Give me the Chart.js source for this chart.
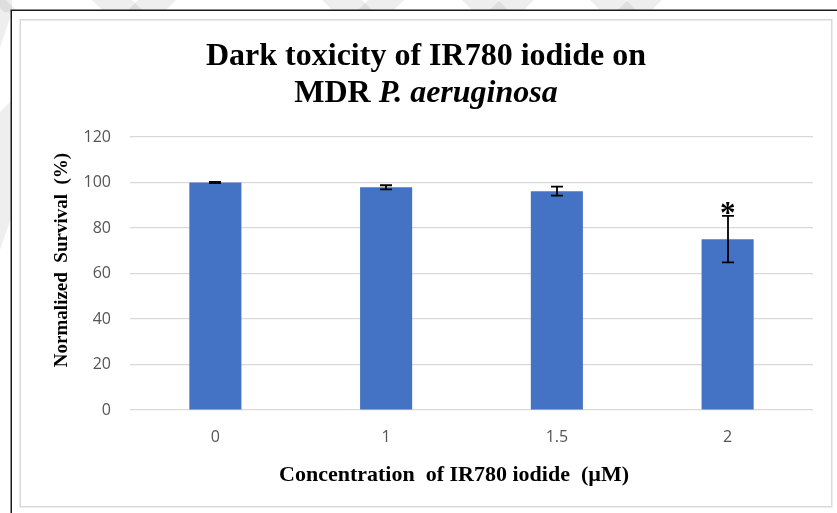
<!DOCTYPE html>
<html>
<head>
<meta charset="utf-8">
<script src="https://cdn.jsdelivr.net/npm/chart.js@4.4.1/dist/chart.umd.min.js"></script>
<style>
  html, body { margin: 0; padding: 0; background: #fff; overflow: hidden; }
  canvas { display: block; }
</style>
</head>
<body>
<canvas id="c" width="837" height="513"></canvas>
<script>
// Survival data per IR780 iodide concentration (mean ± error)
const categories = ['0', '1', '1.5', '2'];
const survival = [100, 97.9, 96.2, 75.1];
const survivalError = [0.3, 0.9, 2.0, 10.2];
const significance = ['', '', '', '*'];
const yTicks = [0, 20, 40, 60, 80, 100, 120];

const titleLine1 = 'Dark toxicity of IR780 iodide on';
const titleLine2Plain = 'MDR ';
const titleLine2Italic = 'P. aeruginosa';
const xTitle = 'Concentration  of IR780 iodide  (\u00b5M)';
const yTitle = 'Normalized  Survival  (%)';

const SERIF = '"Liberation Serif", "Times New Roman", serif';
const TICK_FONT = { family: '"Open Sans", "Liberation Sans", sans-serif', size: 16 };
const TICK_COLOR = '#555555';

// Page background, faint watermark patches, and the framed panel
const framePlugin = {
  id: 'frame',
  beforeDraw(chart) {
    const ctx = chart.ctx;
    const W = chart.width, H = chart.height;
    ctx.save();
    ctx.fillStyle = '#ffffff';
    ctx.fillRect(0, 0, W, H);

    ctx.fillStyle = 'rgba(0,0,0,0.065)';
    // slanted patches along the top margin: [x at top, width, slant]
    const topPatches = [
      [-8, 14, 1], [92, 40, 1], [138, 38, -1], [322, 40, 1], [368, 36, -1],
      [462, 36, 1], [500, 34, -1], [590, 36, 1], [628, 34, -1]
    ];
    topPatches.forEach(([x0, w, d]) => {
      const h = 12;
      ctx.beginPath();
      ctx.moveTo(x0, 0);
      ctx.lineTo(x0 + w, 0);
      ctx.lineTo(x0 + w + d * h, h);
      ctx.lineTo(x0 + d * h, h);
      ctx.closePath();
      ctx.fill();
    });
    // patches along the left margin
    ctx.beginPath();
    ctx.moveTo(0, 0); ctx.lineTo(12, 0); ctx.lineTo(12, 12); ctx.lineTo(0, 48);
    ctx.closePath(); ctx.fill();
    ctx.beginPath();
    ctx.moveTo(0, 112); ctx.lineTo(12, 100); ctx.lineTo(12, 215); ctx.lineTo(0, 250);
    ctx.closePath(); ctx.fill();

    // outer dark frame
    ctx.fillStyle = '#ffffff';
    ctx.fillRect(11, 10, W, H);
    ctx.strokeStyle = '#1a1a1a';
    ctx.lineWidth = 1.5;
    ctx.strokeRect(11.25, 10.25, W + 20, H + 20);

    // inner panel
    ctx.strokeStyle = '#d9d9d9';
    ctx.lineWidth = 1.5;
    ctx.strokeRect(20.25, 19.75, 811.5, 487);
    ctx.restore();
  }
};

// Error bars and significance marks, placed through the y scale
const errorBarPlugin = {
  id: 'errorBars',
  afterDatasetsDraw(chart) {
    const ctx = chart.ctx;
    const y = chart.scales.y;
    const meta = chart.getDatasetMeta(0);
    ctx.save();
    ctx.strokeStyle = '#000';
    ctx.lineWidth = 1.8;
    meta.data.forEach((bar, i) => {
      const x = Math.round(bar.x);
      const yHi = y.getPixelForValue(survival[i] + survivalError[i]);
      const yLo = y.getPixelForValue(survival[i] - survivalError[i]);
      const cap = 6;
      ctx.beginPath();
      ctx.moveTo(x, yHi); ctx.lineTo(x, yLo);
      ctx.moveTo(x - cap, yHi); ctx.lineTo(x + cap, yHi);
      ctx.moveTo(x - cap, yLo); ctx.lineTo(x + cap, yLo);
      ctx.stroke();
      if (significance[i]) {
        ctx.fillStyle = '#000';
        ctx.font = 'bold 31px ' + SERIF;
        ctx.textAlign = 'center';
        ctx.textBaseline = 'alphabetic';
        ctx.fillText(significance[i], bar.x, yHi + 7);
      }
    });
    ctx.restore();
  }
};

// Chart title (with italic species name) and axis titles
const titlePlugin = {
  id: 'titles',
  afterDraw(chart) {
    const ctx = chart.ctx;
    ctx.save();
    ctx.fillStyle = '#000';
    ctx.textBaseline = 'alphabetic';

    const cx = 426;
    const plainFont = 'bold 32px ' + SERIF;
    const italicFont = 'italic bold 32px ' + SERIF;
    ctx.font = plainFont;
    ctx.textAlign = 'center';
    ctx.fillText(titleLine1, cx, 65);

    const w1 = ctx.measureText(titleLine2Plain).width;
    ctx.font = italicFont;
    const w2 = ctx.measureText(titleLine2Italic).width;
    const sx = cx - (w1 + w2) / 2;
    ctx.textAlign = 'left';
    ctx.font = plainFont;
    ctx.fillText(titleLine2Plain, sx, 102);
    ctx.font = italicFont;
    ctx.fillText(titleLine2Italic, sx + w1, 102);

    ctx.font = 'bold 22px ' + SERIF;
    ctx.textAlign = 'center';
    ctx.fillText(xTitle, 454, 481);

    ctx.font = 'bold 19px ' + SERIF;
    ctx.translate(67, 260);
    ctx.rotate(-Math.PI / 2);
    ctx.fillText(yTitle, 0, 0);
    ctx.restore();
  }
};

new Chart(document.getElementById('c'), {
  type: 'bar',
  data: {
    labels: categories,
    datasets: [{
      data: survival,
      backgroundColor: '#4472c4',
      borderWidth: 0,
      categoryPercentage: 1,
      barPercentage: 0.305
    }]
  },
  options: {
    responsive: false,
    animation: false,
    devicePixelRatio: 1,
    layout: { padding: { left: 0, right: 24, top: 137, bottom: 0 } },
    plugins: {
      legend: { display: false },
      title: { display: false },
      tooltip: { enabled: false }
    },
    scales: {
      x: {
        grid: { display: false, drawTicks: false },
        border: { display: false },
        ticks: { font: TICK_FONT, color: TICK_COLOR, padding: 18 },
        afterFit(s) { s.height = 103; }
      },
      y: {
        min: 0,
        max: 120,
        afterBuildTicks(s) { s.ticks = yTicks.map(v => ({ value: v })); },
        grid: { color: '#d9d9d9', lineWidth: 1.2, drawTicks: false },
        border: { display: false },
        ticks: { font: TICK_FONT, color: TICK_COLOR, padding: 19 },
        afterFit(s) { s.width = 130; }
      }
    }
  },
  plugins: [framePlugin, errorBarPlugin, titlePlugin]
});
</script>
</body>
</html>
